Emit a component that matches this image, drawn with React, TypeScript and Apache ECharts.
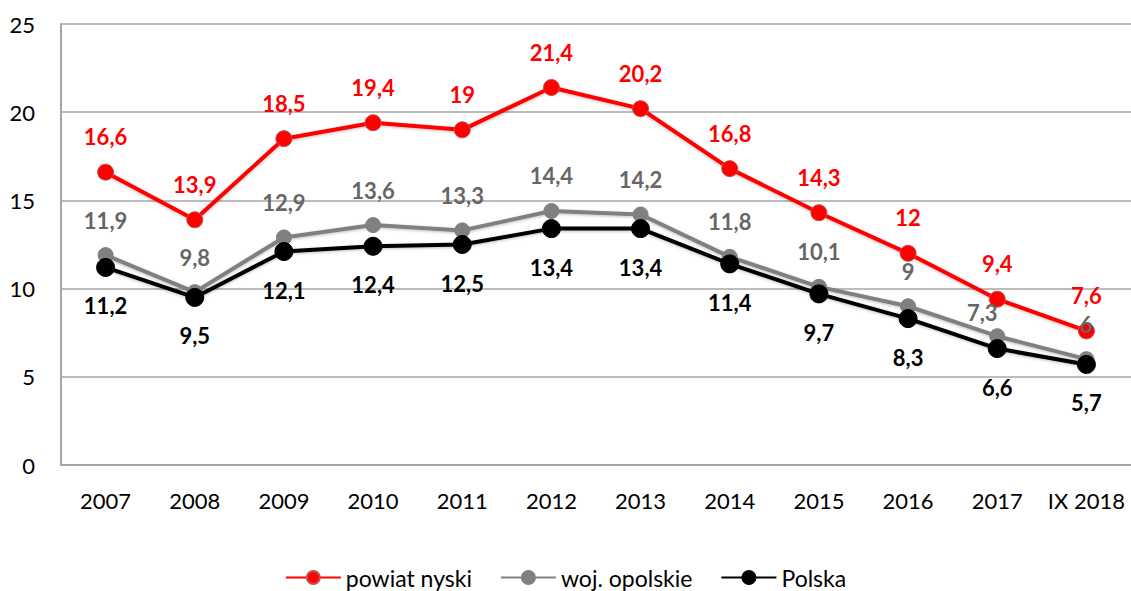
import React, { useEffect, useRef } from "react";
import * as echarts from "echarts";

const categories = ["2007", "2008", "2009", "2010", "2011", "2012", "2013", "2014", "2015", "2016", "2017", "IX 2018"];
const powiatNyski = [16.6, 13.9, 18.5, 19.4, 19, 21.4, 20.2, 16.8, 14.3, 12, 9.4, 7.6];
const wojOpolskie = [11.9, 9.8, 12.9, 13.6, 13.3, 14.4, 14.2, 11.8, 10.1, 9, 7.3, 6];
const polska = [11.2, 9.5, 12.1, 12.4, 12.5, 13.4, 13.4, 11.4, 9.7, 8.3, 6.6, 5.7];
const seriesNames = ["powiat nyski", "woj. opolskie", "Polska"];

const FONT = "Lato, 'Open Sans', sans-serif";
const fmt = (p: any) => String(p.value).replace(".", ",");

export default function App() {
  const ref = useRef<HTMLDivElement>(null);
  useEffect(() => {
    if (!ref.current) return;
    const chart = echarts.init(ref.current, null, { renderer: "svg" });
    const mk = (name: string, data: number[], color: string, labelColor: string, pos: string, size: number, border: string, z: number, shifted?: Record<number, number[]>) => ({
      name,
      type: "line",
      data: data.map((v, i) =>
        shifted && shifted[i] ? { value: v, label: { offset: shifted[i] } } : v
      ),
      z,
      symbol: "circle",
      symbolSize: size,
      lineStyle: { color, width: 4, shadowColor: "rgba(0,0,0,0.25)", shadowBlur: 3, shadowOffsetY: 1 },
      itemStyle: { color, borderColor: border, borderWidth: 1 },
      label: {
        show: true,
        position: pos,
        distance: pos === "top" ? 16 : 18,
        formatter: fmt,
        color: labelColor,
        fontFamily: FONT,
        fontWeight: "bold",
        fontSize: 22,
      },
    });
    chart.setOption({
      animation: false,
      grid: { left: 61, top: 24, width: 1072, height: 441, containLabel: false },
      legend: {
        top: 561,
        left: "center",
        itemWidth: 55,
        itemHeight: 16,
        itemGap: 28,
        data: seriesNames,
        textStyle: { fontFamily: FONT, fontSize: 23, color: "#000", padding: [0, 0, 0, 0] },
      },
      xAxis: {
        type: "category",
        data: categories,
        boundaryGap: true,
        axisLine: { lineStyle: { color: "#a6a6a6", width: 2 } },
        axisTick: { show: false },
        axisLabel: { color: "#000", fontFamily: FONT, fontSize: 22, margin: 24, interval: 0 },
      },
      yAxis: {
        type: "value",
        min: 0,
        max: 25,
        interval: 5,
        axisLine: { show: true, lineStyle: { color: "#a6a6a6", width: 2 } },
        axisTick: { show: false },
        splitLine: { lineStyle: { color: "#a6a6a6", width: 1.5 } },
        axisLabel: { color: "#000", fontFamily: FONT, fontSize: 22, margin: 26 },
      },
      series: [
        mk(seriesNames[0], powiatNyski, "#ff0000", "#ff0000", "top", 16, "#c0504d", 1),
        mk(seriesNames[1], wojOpolskie, "#808080", "#666666", "top", 15, "#808080", 2, { 10: [-15, 11] }),
        mk(seriesNames[2], polska, "#000000", "#000000", "bottom", 18, "#000000", 4),
      ],
    });
    return () => chart.dispose();
  }, []);
  return <div ref={ref} style={{ position: "fixed", left: 0, top: 0, width: 1131, height: 591, background: "#fff" }} />;
}
